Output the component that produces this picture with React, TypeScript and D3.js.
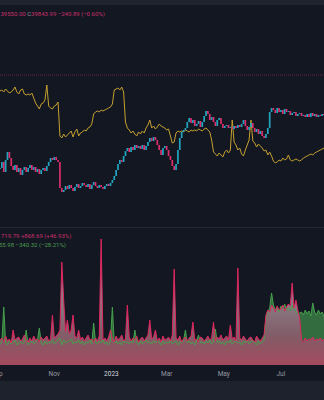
import React from "react";
import * as d3 from "d3";

const W = 324;
const H = 400;
const START = new Date(2022, 8, 4);
const END = new Date(2023, 7, 16);
const STEP_DAYS = 2;

const closes = [
  21400,22600,20600,23000,24600,23400,21800,21000,22000,20600,
  21400,20000,21000,21600,20600,21400,22000,21000,21600,20600,
  21200,20200,21000,21400,20800,21800,22600,23400,23000,23600,
  23000,22600,17400,16600,17000,17800,17200,18000,17400,16800,
  17600,18200,17400,17800,18400,18000,17600,18200,17200,18000,
  18600,17800,17400,18000,17600,17200,17800,18200,17800,18400,
  19000,19800,21000,22200,23000,22600,23800,24800,25400,24600,
  25600,25000,26000,25400,25800,25200,26000,25000,25800,26600,
  27400,26800,27600,27000,26000,25000,24000,25400,25800,25000,
  23800,23000,21800,21000,22200,25000,27400,28600,29000,29400,
  30600,31400,30400,31000,29800,30200,30800,29600,30600,31800,
  32800,32200,31000,31600,30600,29800,31000,31400,30200,29400,
  29800,30000,29400,29600,29200,29800,29400,30000,29600,30200,
  31000,29800,29000,29600,30400,29400,28600,29200,28200,28800,
  27800,27400,28200,29400,32600,33400,33000,32400,33400,32600,
  33000,32200,33200,32600,32800,32000,32400,32600,31800,32200,
  32400,31800,32000,31600,32200,31600,32400,31800,32200,31600,
  32000,31800,32200,32000,
];

const compareSeries = [
  84,85,83,86,84,82,83,85,88,83,81,85,86,81,80,81,80,82,77,72,
  69,66,71,72,75,90,69,67,66,69,70,73,39,37,41,38,40,42,44,38,
  43,46,39,42,43,45,44,47,48,51,61,63,64,63,65,64,65,66,67,68,
  71,85,86,87,85,88,83,53,47,45,42,44,41,39,43,41,44,42,47,50,
  55,47,49,46,48,51,49,48,47,45,46,39,32,33,42,44,43,44,43,45,
  44,43,45,44,45,44,46,45,44,46,47,45,43,35,23,21,19,22,20,18,
  23,25,22,25,55,33,30,25,27,21,19,25,30,35,55,34,32,28,31,29,
  27,24,25,20,23,19,14,12,13,15,14,17,15,16,20,15,14,15,16,15,
  14,15,17,18,19,20,21,20,22,23,24,25,26,27,
];

const volumeA = [
  25,27,23,29,24,26,22,35,25,27, 28,24,26,30,25,23,27,24,29,25,
  26,23,28,25,27,29,24,26,50,27, 29,31,35,103,65,33,45,31,35,50,
  29,27,35,25,28,24,27,30,25,26, 23,27,24,29,126,25,27,24,28,35,
  26,23,29,25,27,30,24,26,60,28, 24,27,25,29,23,26,28,24,27,30,
  45,26,28,35,24,27,23,29,25,26, 28,24,30,96,27,25,29,23,26,28,
  24,27,29,43,25,26,23,28,27,24, 26,29,25,27,43,24,28,26,30,25,
  27,29,25,40,26,28,24,97,27,25, 29,26,24,27,28,25,23,29,26,24,
  27,30,50,55,53,60,57,53,59,55, 56,60,54,58,61,59,82,57,65,55,
  47,25,23,27,24,26,25,28,24,26, 25,27,24,26,
];

const volumeB = [
  21,23,58,22,20,24,21,23,25,20, 22,24,21,23,35,20,22,24,21,23,
  25,37,22,20,24,21,23,22,25,21, 23,25,27,20,25,22,23,24,26,21,
  23,22,25,21,24,20,23,22,25,21, 42,23,21,24,22,25,21,23,20,24,
  58,22,24,21,23,20,25,22,23,21, 24,22,35,23,20,24,21,23,25,22,
  23,21,24,22,25,23,20,24,21,23, 22,25,21,23,24,20,23,22,24,35,
  22,24,21,23,20,24,30,22,23,21, 24,22,25,21,23,36,22,24,21,23,
  20,24,22,25,21,23,24,22,23,20, 24,22,25,21,23,24,22,20,24,21,
  23,25,47,53,57,72,60,55,58,53, 59,56,61,55,57,54,60,56,53,51,
  52,53,50,55,51,54,49,62,53,50, 55,51,53,49,
];

const tickDates = [
  new Date(2022, 8, 1), new Date(2022, 10, 1), new Date(2023, 0, 1),
  new Date(2023, 2, 1), new Date(2023, 4, 1), new Date(2023, 6, 1),
];

const priceLineValue = 40000;
const headerParts = [
  { t: "39550.00 ", c: "#c8306a" },
  { t: "C", c: "#9598a1" },
  { t: "39843.99 −240.89 (−0.60%)", c: "#c8306a" },
];
const legendA = "719.79  +868.69 (+46.93%)";
const legendB = "55.98  −340.32 (−28.21%)";

const dateAt = (i: number) => d3.timeDay.offset(START, i * STEP_DAYS);

export default function App() {
  const x = d3.scaleTime().domain([START, END]).range([0, W]);
  const yPrice = d3.scaleLinear().domain([40000, 15000]).range([75, 200]);
  const yCmp = d3.scaleLinear().domain([0, 100]).range([175, 75]);
  const yVol = d3.scaleLinear().domain([0, 126]).range([365, 239]);

  const cmpLine = d3
    .line<number>()
    .x((_, i) => x(dateAt(i)))
    .y((d) => yCmp(d));

  const volArea = d3
    .area<number>()
    .x((_, i) => x(dateAt(i)))
    .y0(yVol(0))
    .y1((d) => yVol(d));
  const volLine = d3
    .line<number>()
    .x((_, i) => x(dateAt(i)))
    .y((d) => yVol(d));

  const bodyW = 1.7;
  const fmt = (d: Date) => (d.getMonth() === 0 ? d3.timeFormat("%Y")(d) : d3.timeFormat("%b")(d));
  const font = "Roboto, 'DejaVu Sans', sans-serif";

  return (
    <svg width={W} height={H} style={{ position: "absolute", left: 0, top: 0, display: "block" }}>
      <defs>
        <linearGradient id="volGrad" gradientUnits="userSpaceOnUse" x1="0" y1="290" x2="0" y2="365">
          <stop offset="0" stopColor="#8d868e" />
          <stop offset="0.6" stopColor="#815d68" />
          <stop offset="1" stopColor="#a4495d" />
        </linearGradient>
      </defs>
      <rect x={0} y={0} width={W} height={H} fill="#131722" />
      <rect x={0} y={0} width={W} height={5} fill="#1f232e" />
      <rect x={0} y={381} width={W} height={19} fill="#1e222d" />
      <line x1={0} x2={W} y1={227.5} y2={227.5} stroke="#242833" />

      <text x={0.5} y={16} fontSize={6} fontFamily={font}>
        {headerParts.map((p, i) => (
          <tspan key={i} fill={p.c}>{p.t}</tspan>
        ))}
      </text>

      <line
        x1={0}
        x2={W}
        y1={yPrice(priceLineValue)}
        y2={yPrice(priceLineValue)}
        stroke="#6b2242"
        strokeDasharray="1 1"
      />

      <path d={cmpLine(compareSeries) || ""} fill="none" stroke="#c4a02f" strokeWidth={1} />

      {closes.map((c, i) => {
        const o = i === 0 ? c : closes[i - 1];
        const up = c >= o;
        const y0 = yPrice(Math.max(o, c));
        const y1 = yPrice(Math.min(o, c));
        return (
          <rect
            key={i}
            x={x(dateAt(i)) - bodyW / 2}
            y={y0}
            width={bodyW}
            height={Math.max(1, y1 - y0)}
            fill={up ? "#22a6c0" : "#dc2f6c"}
          />
        );
      })}

      <text x={1} y={238} fontSize={6} fontFamily={font} fill="#c8306a">{legendA}</text>
      <text x={-1} y={247} fontSize={6} fontFamily={font} fill="#4c9a50">{legendB}</text>

      <path d={volArea(volumeB) || ""} fill="#3a7d44" fillOpacity={0.85} />
      <path d={volArea(volumeA) || ""} fill="url(#volGrad)" />
      <path d={volLine(volumeB) || ""} fill="none" stroke="#46a04c" strokeWidth={1} />
      <path d={volLine(volumeA) || ""} fill="none" stroke="#e0245e" strokeWidth={1} />

      {tickDates.map((d, i) => (
        <text
          key={i}
          x={x(d)}
          y={376}
          textAnchor="middle"
          fontSize={6.5}
          fontFamily={font}
          fill={d.getMonth() === 0 ? "#d1d4dc" : "#9598a1"}
        >
          {fmt(d)}
        </text>
      ))}
    </svg>
  );
}
